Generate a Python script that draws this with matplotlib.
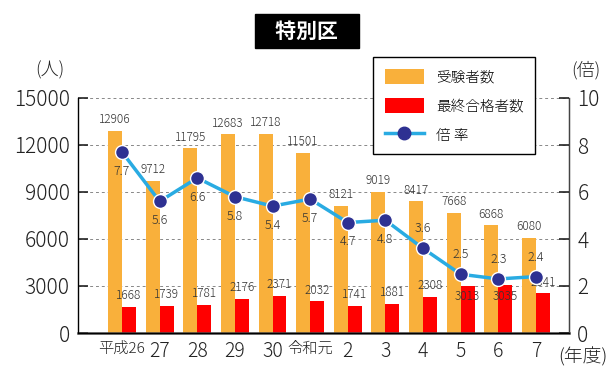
import matplotlib
matplotlib.use("Agg")
import matplotlib.pyplot as plt
from matplotlib.patches import Patch
from matplotlib.lines import Line2D
import numpy as np

plt.rcParams['font.family'] = ['Noto Sans CJK JP', 'DejaVu Sans']
plt.rcParams['font.weight'] = 'light'

years = ['平成26', '27', '28', '29', '30', '令和元', '2', '3', '4', '5', '6', '7']
applicants = [12906, 9712, 11795, 12683, 12718, 11501, 8121, 9019, 8417, 7668, 6868, 6080]
passers = [1668, 1739, 1781, 2176, 2371, 2032, 1741, 1881, 2308, 3013, 3035, 2541]
ratio = [7.7, 5.6, 6.6, 5.8, 5.4, 5.7, 4.7, 4.8, 3.6, 2.5, 2.3, 2.4]

orange = '#F9B03B'
red = '#FF0000'
navy = '#2E3192'
sky = '#29ABE2'
txt = '#333333'

fig = plt.figure(figsize=(6.15, 3.78), dpi=100)
ax = fig.add_axes([78 / 615, 1 - 333 / 378, 491 / 615, 235 / 378])
x = np.arange(len(years))
w = 0.37

ax.bar(x - w / 2, applicants, w, color=orange, zorder=2)
ax.bar(x + w / 2, passers, w, color=red, zorder=2)

for i in range(len(years)):
    ax.annotate(str(applicants[i]), (x[i] - w / 2, applicants[i]), xytext=(0, 8),
                textcoords='offset points', ha='center', va='center', fontsize=8.5, color=txt, zorder=5)
    off = -8 if passers[i] > 2900 else 8
    ax.annotate(str(passers[i]), (x[i] + w / 2, passers[i]), xytext=(0, off),
                textcoords='offset points', ha='center', va='center', fontsize=8.5, color=txt, zorder=5)

ax.set_ylim(0, 15000)
ax.set_xlim(-1.17, 11.88)
ax.set_yticks([0, 3000, 6000, 9000, 12000, 15000])
ax.yaxis.grid(True, linestyle=(0, (3, 3)), color='#888888', linewidth=0.7)
ax.set_axisbelow(True)
ax.set_xticks(x)
ax.set_xticklabels(years)
ax.tick_params(axis='x', length=0, labelsize=14, pad=6, colors='#222222')
ax.tick_params(axis='y', direction='in', length=7, width=1.2, labelsize=15, pad=6,
               colors='#222222')
ax.get_xticklabels()[0].set_fontsize(11)
ax.get_xticklabels()[5].set_fontsize(11)
ax.spines['top'].set_visible(False)
ax.spines['bottom'].set_linewidth(1.8)
ax.spines['bottom'].set_color('#444444')
for s in ['left', 'right']:
    ax.spines[s].set_color('#444444')
    ax.spines[s].set_linewidth(1.0)

ax2 = ax.twinx()
ax2.set_ylim(0, 10)
ax2.set_yticks([0, 2, 4, 6, 8, 10])
ax2.tick_params(axis='y', direction='in', length=7, width=1.2, labelsize=15, pad=6,
                colors='#222222')
ax2.spines['top'].set_visible(False)
ax2.spines['right'].set_color('#444444')
ax2.plot(x, ratio, color=sky, linewidth=2.5, marker='o', markersize=10,
         markerfacecolor=navy, markeredgecolor='white', markeredgewidth=1.0, zorder=4)
for i in range(len(years)):
    off = 14 if ratio[i] < 4 else -14
    ax2.annotate(f'{ratio[i]:.1f}', (x[i], ratio[i]), xytext=(0, off),
                 textcoords='offset points', ha='center', va='center', fontsize=9, color=txt)

fig.text(50 / 615, 1 - 70 / 378, '(人)', fontsize=13, ha='center', va='center', color='#222222')
fig.text(586 / 615, 1 - 70 / 378, '(倍)', fontsize=13, ha='center', va='center', color='#222222')
fig.text(583 / 615, 1 - 357 / 378, '(年度)', fontsize=13.5, ha='center', va='center', color='#222222')

fig.text(307 / 615, 1 - 31 / 378, '   特別区   ', fontsize=15, fontweight='bold', color='white',
         ha='center', va='center',
         bbox=dict(facecolor='black', edgecolor='black', boxstyle='square,pad=0.3'))

handles = [Patch(facecolor=orange), Patch(facecolor=red),
           Line2D([0], [0], color=sky, linewidth=2.5, marker='o', markersize=9,
                  markerfacecolor=navy, markeredgecolor=navy)]
leg = ax2.legend(handles, ['受験者数', '最終合格者数', '倍 率'], loc='upper left',
                 bbox_to_anchor=(0.601, 1.174), borderaxespad=0, fontsize=10.5, frameon=True,
                 fancybox=False, edgecolor='black', framealpha=1, handlelength=2.7,
                 handleheight=1.2, labelspacing=0.95, borderpad=0.8, handletextpad=0.8)
leg.get_frame().set_linewidth(1.0)
leg.set_zorder(10)

fig.savefig('out.png', dpi=100)
